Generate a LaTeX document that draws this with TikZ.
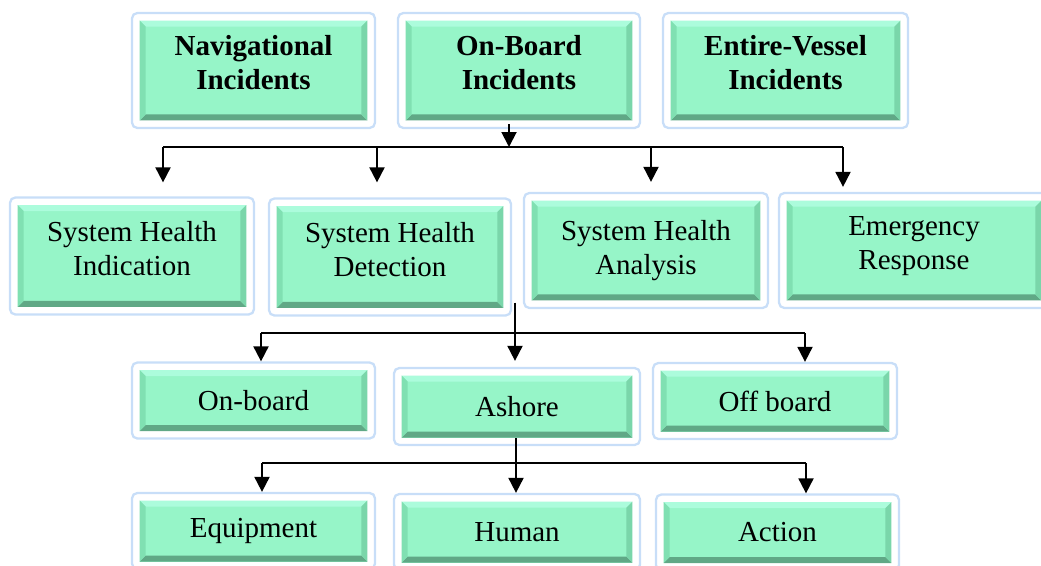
\documentclass[tikz,border=0pt]{standalone}
\usepackage{fontspec}
\setmainfont{Liberation Serif}
\usetikzlibrary{arrows.meta,calc}
\definecolor{boxgreen}{RGB}{150,245,200}
\definecolor{bvtop}{RGB}{172,252,220}
\definecolor{bvleft}{RGB}{128,224,178}
\definecolor{bvright}{RGB}{122,214,170}
\definecolor{bvbottom}{RGB}{96,168,134}
\definecolor{frameblue}{RGB}{200,222,248}
\begin{document}
\begin{tikzpicture}[x = 0.02cm, y = -0.02cm,
    frame/.style = {draw = frameblue, line width = 1.3pt, fill = white, rounded corners = 3pt,
        inner sep = 0pt, align = center, font = \fontsize{16.5}{19.5}\selectfont,
        path picture = {
            \coordinate (A) at ($(path picture bounding box.north west)+(0.15cm,-0.15cm)$);
            \coordinate (B) at ($(path picture bounding box.south east)+(-0.15cm,0.15cm)$);
            \coordinate (C) at ($(A)+(0.12cm,-0.12cm)$);
            \coordinate (D) at ($(B)+(-0.12cm,0.12cm)$);
            \fill[boxgreen, sharp corners] (A) rectangle (B);
            \fill[bvtop, sharp corners] (A) -- (A -| B) -- (C -| D) -- (C) -- cycle;
            \fill[bvbottom, sharp corners] (A |- B) -- (B) -- (D) -- (C |- D) -- cycle;
            \fill[bvleft, sharp corners] (A) -- (A |- B) -- (C |- D) -- (C) -- cycle;
            \fill[bvright, sharp corners] (A -| B) -- (B) -- (D) -- (C -| D) -- cycle;
        }},
    twoline/.style = {frame, execute at end node = {\rule[-0.31cm]{0pt}{0.31cm}}},
    head/.style = {twoline, font = \fontsize{16.5}{19.5}\selectfont\bfseries},
    arr/.style = {line width = 1.1pt, -{Triangle[length = 0.3cm, width = 0.3cm]}},
    bus/.style = {line width = 0.7pt}]
\useasboundingbox (0,0) rectangle (1041,565);

\node[head, minimum width = 4.86cm, minimum height = 2.3cm] (nav) at (253.5,70.5) {Navigational\\Incidents};
\node[head, minimum width = 4.84cm, minimum height = 2.3cm] (onb) at (519,70.5) {On-Board\\Incidents};
\node[head, minimum width = 4.9cm, minimum height = 2.3cm] (ent) at (785.5,70.5) {Entire-Vessel\\Incidents};

\node[twoline, minimum width = 4.88cm, minimum height = 2.34cm] (shi) at (132,256) {System Health\\Indication};
\node[twoline, minimum width = 4.84cm, minimum height = 2.34cm] (shd) at (390,257) {System Health\\Detection};
\node[frame, minimum width = 4.88cm, minimum height = 2.3cm] (sha) at (646,250.5) {System Health\\Analysis};
\node[twoline, minimum width = 5.4cm, minimum height = 2.3cm] (er) at (914,250.5) {Emergency\\Response};

\node[frame, minimum width = 4.86cm, minimum height = 1.52cm] (onbd) at (253.5,400.5) {On-board};
\node[frame, minimum width = 4.92cm, minimum height = 1.54cm] (ash) at (517,406.5) {Ashore};
\node[frame, minimum width = 4.88cm, minimum height = 1.52cm] (off) at (775,401) {Off board};

\node[frame, minimum width = 4.86cm, minimum height = 1.52cm] (eqp) at (253.5,531) {Equipment};
\node[frame, minimum width = 4.92cm, minimum height = 1.52cm] (hum) at (517,532) {Human};
\node[frame, minimum width = 4.86cm, minimum height = 1.52cm] (act) at (777.5,532.5) {Action};

\coordinate (t1) at (509,147);
\coordinate (b1l) at (163,147);
\coordinate (b1m) at (377,147);
\coordinate (b1n) at (651,147);
\coordinate (b1r) at (843,147);
\draw[arr] ($(onb.south -| t1)+(0,-5)$) -- (t1);
\draw[bus] (b1l) -- (b1r);
\draw[arr, shorten > = 0.28cm] (b1l) -- (b1l |- shi.north);
\draw[arr, shorten > = 0.3cm] (b1m) -- (b1m |- shd.north);
\draw[arr, shorten > = 0.2cm] (b1n) -- (b1n |- sha.north);
\draw[arr, shorten > = 0.1cm] (b1r) -- (b1r |- er.north);

\coordinate (t2) at (515,333);
\coordinate (b2l) at (261,333);
\coordinate (b2r) at (805,333);
\draw[arr, shorten > = 0.12cm] ($(shd.south east -| t2)+(0,-14)$) -- (t2 |- ash.north);
\draw[bus] (b2l) -- (b2r);
\draw[arr] (b2l) -- (b2l |- onbd.north);
\draw[arr] (b2r) -- (b2r |- off.north);

\coordinate (t3) at (516,463);
\coordinate (b3l) at (262,463);
\coordinate (b3r) at (806,463);
\draw[arr] ($(ash.south -| t3)+(0,-8)$) -- (t3 |- hum.north);
\draw[bus] (b3l) -- (b3r);
\draw[arr] (b3l) -- (b3l |- eqp.north);
\draw[arr] (b3r) -- (b3r |- act.north);
\end{tikzpicture}
\end{document}
